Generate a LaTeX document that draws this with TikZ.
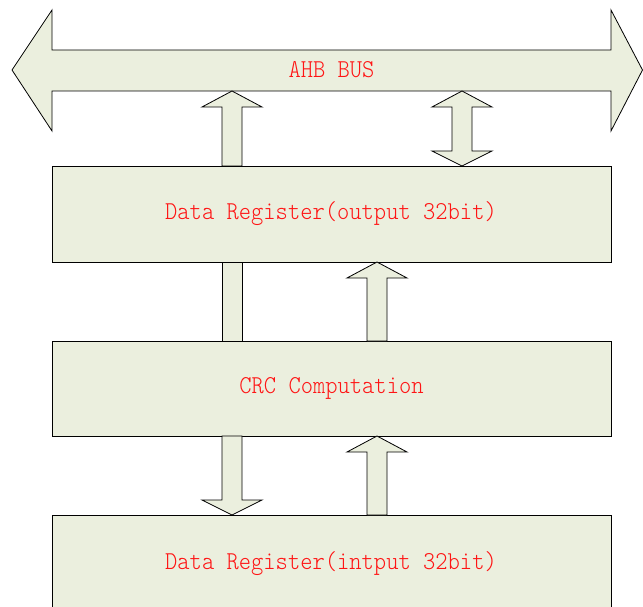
\documentclass[tikz,border=0pt]{standalone}
\usepackage{fontspec}
\usepackage{graphicx}
\setmonofont{Latin Modern Mono Light}
\definecolor{blkfill}{RGB}{235,239,222}
\definecolor{txtred}{RGB}{255,20,20}
\newcommand\tallt[1]{\scalebox{1}[1.1]{#1}}
\tikzset{
  blk/.style={draw=black, fill=blkfill, line width=0.8pt, line join=miter},
  box/.style={draw=black, fill=blkfill, line width=0.8pt, minimum width=559pt, inner sep=0pt},
  lbl/.style={text=txtred, inner sep=0pt, font=\ttfamily\fontsize{23.4pt}{27pt}\selectfont},
}
\newcommand\blkup[4]{% name, x center, tip y, bottom y
  \draw[blk] ({#2-10},#4) -- ({#2-10},{#3+16}) -- ({#2-30},{#3+16}) -- (#2,#3) -- ({#2+30},{#3+16}) -- ({#2+10},{#3+16}) -- ({#2+10},#4) -- cycle;
  \coordinate (#1) at (#2,#3);}
\newcommand\blkdown[4]{% name, x center, top y, tip y
  \draw[blk] ({#2-10},#3) -- ({#2-10},{#4-15}) -- ({#2-30},{#4-15}) -- (#2,#4) -- ({#2+30},{#4-15}) -- ({#2+10},{#4-15}) -- ({#2+10},#3) -- cycle;
  \coordinate (#1) at (#2,#4);}
\begin{document}
\begin{tikzpicture}[x=1pt,y=-1pt]
\useasboundingbox (0,0) rectangle (643,607);
\clip (0,0) rectangle (643,607);
% bus
\draw[blk] (12,70) -- (52,10) -- (52,50) -- (611,50) -- (611,10) -- (642.5,70)
  -- (611,131) -- (611,91) -- (52,91) -- (52,131) -- cycle;
\node[lbl] (bus) at (331.5,70) {\tallt{AHB BUS}};
% boxes
\node[box, minimum height=96pt] (reg1) at (331.5,214) {};
\node[lbl] (reg1t) at (331,214) {\tallt{Data Register(output 32bit)}};
\node[box, minimum height=95pt] (crc) at (331.5,388.5) {};
\node[lbl] (crct) at (331.5,388.5) {\tallt{CRC Computation}};
\node[box, minimum height=96pt] (reg2) at (331.5,563) {};
\node[lbl] (reg2t) at (331,563.5) {\tallt{Data Register(intput 32bit)}};
% connectors
\blkup{a1}{232}{91}{166}
\draw[blk] (452,107) -- (432,107) -- (462,91) -- (492,107) -- (472,107)
  -- (472,151) -- (492,151) -- (462,166) -- (432,151) -- (452,151) -- cycle;
\draw[blk] (222,262) rectangle (242,341);
\blkup{a4}{377}{262}{341}
\blkdown{a5}{232}{436}{515}
\blkup{a6}{377}{436}{515}
\end{tikzpicture}
\end{document}
